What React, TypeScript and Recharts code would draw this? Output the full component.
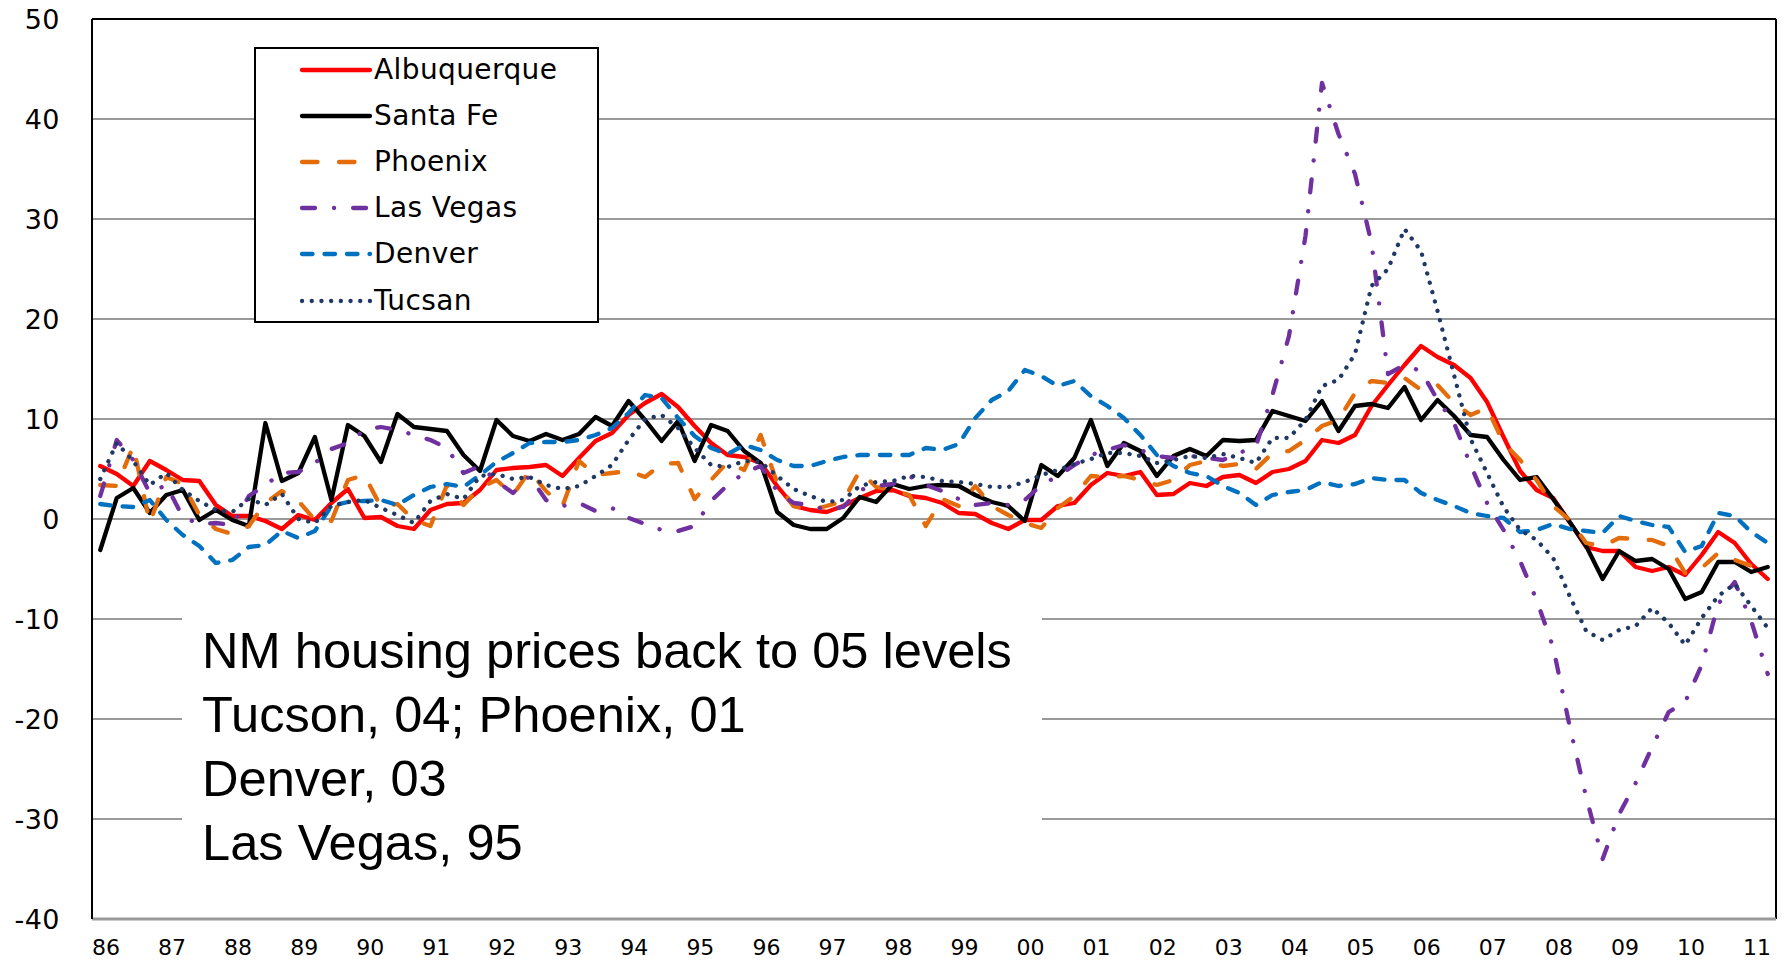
import React from "react";
import { LineChart, Line, XAxis, YAxis, CartesianGrid, ReferenceLine } from "recharts";

const yearLabels = ["86","87","88","89","90","91","92","93","94","95","96","97","98","99","00","01","02","03","04","05","06","07","08","09","10","11"];
const quarterNames = ["Q1","Q2","Q3","Q4"];
const yTicks = [-40,-30,-20,-10,0,10,20,30,40,50];

const albuquerque = [5.3,4.5,3.3,5.8,4.9,3.9,3.8,1.4,0.3,0.3,
 -0.2,-1.0,0.4,-0.1,1.6,3.0,0.1,0.2,-0.7,-1.0,
 0.9,1.5,1.6,2.9,4.9,5.1,5.2,5.4,4.3,6.1,
 7.8,8.6,10.4,11.6,12.5,11.2,9.3,7.6,6.4,6.2,
 5.6,3.3,1.3,0.9,0.7,1.3,2.1,2.8,2.9,2.3,
 2.1,1.6,0.6,0.5,-0.4,-1.0,-0.1,-0.1,1.3,1.6,
 3.4,4.6,4.3,4.7,2.4,2.5,3.6,3.3,4.2,4.4,
 3.6,4.7,5.0,5.8,7.9,7.6,8.4,11.3,13.4,15.4,
 17.3,16.2,15.4,14.1,11.7,8.2,4.8,2.9,2.1,-0.3,
 -2.8,-3.2,-3.2,-4.8,-5.2,-4.8,-5.6,-3.6,-1.3,-2.4,
 -4.5,-6.0];

const santaFe = [-3.1,2.1,3.1,0.6,2.4,2.9,-0.1,0.9,-0.1,-0.7,
 9.6,3.8,4.6,8.2,1.9,9.4,8.3,5.7,10.5,9.2,
 9.0,8.8,6.4,4.8,9.9,8.3,7.8,8.5,7.9,8.5,
 10.2,9.3,11.8,9.9,7.8,9.8,5.8,9.4,8.8,6.8,
 5.6,0.7,-0.6,-1.0,-1.0,0.1,2.2,1.7,3.5,3.0,
 3.3,3.4,3.3,2.4,1.7,1.3,-0.2,5.4,4.3,6.1,
 9.9,5.3,7.6,6.8,4.3,6.3,7.0,6.3,7.9,7.8,
 7.9,10.8,10.3,9.8,11.8,8.8,11.3,11.5,11.1,13.2,
 9.9,11.9,10.3,8.4,8.2,5.9,3.9,4.2,2.0,-0.3,
 -2.7,-6.0,-3.2,-4.2,-4.0,-5.0,-8.0,-7.3,-4.3,-4.3,
 -5.3,-4.8];

const phoenix = [3.4,3.3,7.3,-0.4,4.2,3.5,0.4,-1.0,-1.5,-0.7,
 1.6,2.8,1.8,-0.1,-0.2,3.9,4.4,1.2,1.5,-0.1,
 -0.7,3.4,1.4,3.1,3.9,2.4,4.8,2.8,1.3,5.8,
 4.4,4.6,4.8,4.2,5.5,5.6,2.0,3.9,5.7,4.9,
 8.4,3.6,1.3,0.9,1.3,1.8,4.8,3.2,2.9,2.4,
 -0.7,2.0,1.3,3.3,1.3,0.4,-0.4,-0.9,1.1,2.3,
 4.3,4.2,4.3,3.9,3.4,3.9,5.4,5.8,5.3,5.5,
 5.0,6.6,6.8,7.9,9.3,9.9,12.6,13.8,13.6,14.1,
 12.9,13.4,11.6,10.4,11.1,7.6,5.9,3.9,1.3,-0.1,
 -2.4,-2.7,-1.9,-2.0,-2.1,-2.7,-5.4,-4.9,-3.4,-4.1,
 -4.7,-4.9];

const lasVegas = [2.3,7.9,5.9,2.6,3.4,0.2,-0.5,-0.4,-0.6,2.3,
 3.4,4.6,4.7,5.6,7.0,7.6,8.9,9.2,8.9,8.4,
 7.9,7.1,4.6,5.3,3.8,2.6,4.3,1.9,1.3,1.6,
 0.8,1.1,0.1,-0.5,-1.1,-1.2,-0.7,1.8,3.4,4.6,
 5.3,2.8,1.6,1.4,0.9,1.2,2.9,3.3,3.5,4.3,
 3.4,2.8,2.0,1.4,1.6,1.4,1.9,3.4,4.3,5.4,
 6.4,6.9,7.4,6.9,6.3,6.1,6.3,6.1,5.9,6.6,
 7.3,12.4,18.3,28.3,43.6,38.5,34.5,27.6,14.5,15.4,
 14.8,11.9,9.6,5.4,1.6,-1.1,-4.2,-8.1,-12.8,-20.7,
 -27.8,-34.0,-29.5,-26.4,-22.8,-19.3,-18.3,-14.6,-8.5,-6.3,
 -10.2,-15.5];

const denver = [1.5,1.3,1.2,1.9,-0.1,-1.6,-2.7,-4.4,-4.1,-2.8,
 -2.6,-1.2,-1.9,-1.2,1.3,1.7,1.8,1.9,1.4,2.4,
 3.2,3.5,3.2,4.4,5.7,6.6,7.6,7.7,7.7,7.9,
 8.4,9.1,10.6,12.4,12.1,10.1,8.3,7.1,6.5,7.4,
 6.9,5.9,5.3,5.3,5.8,6.2,6.4,6.4,6.4,6.4,
 7.1,6.9,7.5,10.1,11.9,12.8,14.9,14.3,13.3,13.8,
 12.3,11.3,10.1,8.4,6.4,5.3,4.6,4.3,3.3,2.6,
 1.4,2.4,2.7,2.9,3.7,3.3,3.5,4.1,3.9,3.9,
 2.6,1.9,1.3,0.6,0.3,0.1,-1.3,-1.1,-0.5,-1.0,
 -1.2,-1.4,0.3,-0.2,-0.6,-0.8,-3.3,-2.7,0.6,0.3,
 -1.3,-2.4];

const tucsan = [4.0,7.6,5.8,3.4,4.6,2.9,1.8,0.9,0.7,2.0,
 1.4,2.5,0.0,-0.4,1.3,1.7,1.9,1.1,0.4,-0.4,
 1.8,2.5,2.0,4.3,4.5,4.0,4.2,3.4,3.0,3.3,
 4.3,5.4,7.9,10.0,10.4,9.1,7.1,5.4,5.2,5.8,
 5.7,4.3,3.0,2.3,1.7,1.9,3.3,3.7,3.8,4.3,
 4.2,3.8,3.7,3.5,3.2,3.2,3.7,4.4,4.9,5.5,
 6.0,6.6,6.6,6.3,5.6,5.9,6.3,6.1,6.5,6.1,
 5.6,8.1,8.1,9.9,13.3,13.9,16.5,23.3,25.0,29.0,
 26.8,20.8,14.4,8.0,4.6,1.2,-1.1,-2.1,-3.9,-7.7,
 -11.2,-12.1,-11.1,-10.7,-8.9,-10.4,-12.6,-9.9,-7.7,-6.5,
 -8.7,-10.9];

const annotationLines = ["NM housing prices back to 05 levels", "Tucson, 04; Phoenix, 01", "Denver, 03", "Las Vegas, 95"];

const series = [
  { key: "albuquerque", name: "Albuquerque", values: albuquerque, color: "#FF0000", dash: undefined as string | undefined },
  { key: "santaFe", name: "Santa Fe", values: santaFe, color: "#000000", dash: undefined as string | undefined },
  { key: "phoenix", name: "Phoenix", values: phoenix, color: "#E46C0A", dash: "15.5 21.5" },
  { key: "lasVegas", name: "Las Vegas", values: lasVegas, color: "#7030A0", dash: "13 19 0.1 19" },
  { key: "denver", name: "Denver", values: denver, color: "#0070C0", dash: "10.5 12" },
  { key: "tucsan", name: "Tucsan", values: tucsan, color: "#1F3864", dash: "0.1 9.6" },
];

const LABEL_SHIFT = 0.35;
const data = albuquerque.map((_, i) => {
  const row: Record<string, number | string> = {
    idx: i,
    period: yearLabels[Math.floor(i / 4)] + quarterNames[i % 4],
  };
  series.forEach((s) => { row[s.key] = s.values[i]; });
  return row;
});
const xTicks = yearLabels.map((_, k) => k * 4 + LABEL_SHIFT);

const W = 1789;
const H = 963;
const LINE_W = 4.3;
const tickFont = "'DejaVu Sans', Verdana, sans-serif";

export default function App() {
  return (
    <div style={{ position: "absolute", left: 0, top: 0, width: W, height: H, background: "#fff", overflow: "hidden" }}>
      <LineChart width={W} height={H} data={data} margin={{ top: 19, right: 13, left: 0, bottom: 0 }}>
        <CartesianGrid vertical={false} horizontal={true} stroke="#9a9a9a" strokeWidth={2} />
        <XAxis
          type="number"
          dataKey="idx"
          domain={[-0.5, 101.5]}
          ticks={xTicks}
          tickFormatter={(v: number) => yearLabels[Math.round((v - LABEL_SHIFT) / 4)]}
          interval={0}
          height={44}
          tickLine={false}
          tickSize={0}
          tickMargin={20}
          axisLine={{ stroke: "#9a9a9a", strokeWidth: 3 }}
          tick={{ fill: "#000", fontSize: 22, fontFamily: tickFont }}
          allowDataOverflow
        />
        <YAxis
          type="number"
          domain={[-40, 50]}
          ticks={yTicks}
          interval={0}
          width={92}
          tickLine={false}
          tickSize={0}
          tickMargin={32}
          axisLine={{ stroke: "#000", strokeWidth: 2 }}
          tick={{ fill: "#000", fontSize: 27, fontFamily: tickFont, letterSpacing: 0.5 }}
          allowDataOverflow
        />
        <ReferenceLine y={50} stroke="#000" strokeWidth={2} ifOverflow="visible" />
        <ReferenceLine x={101.5} stroke="#000" strokeWidth={2} ifOverflow="visible" />
        {series.map((s) => (
          <Line
            key={s.key}
            type="linear"
            dataKey={s.key}
            name={s.name}
            stroke={s.color}
            strokeWidth={LINE_W}
            strokeDasharray={s.dash}
            strokeLinecap="round"
            strokeLinejoin="round"
            dot={false}
            activeDot={false}
            isAnimationActive={false}
          />
        ))}
      </LineChart>

      <div style={{ position: "absolute", left: 254, top: 47, width: 345, height: 276, boxSizing: "border-box", border: "2px solid #000", background: "#fff" }}>
        {series.map((s, k) => (
          <div key={s.key} style={{ position: "absolute", left: 0, top: 20.5 + k * 46.2 - 18, height: 36, display: "flex", alignItems: "center" }}>
            <svg width={118} height={36} style={{ display: "block" }}>
              <line x1={46} y1={18} x2={114} y2={18} stroke={s.color} strokeWidth={LINE_W} strokeDasharray={s.dash} strokeLinecap="round" />
            </svg>
            <span style={{ fontFamily: tickFont, fontSize: 28, letterSpacing: 0.4, color: "#000", whiteSpace: "nowrap", lineHeight: "36px" }}>{s.name}</span>
          </div>
        ))}
      </div>

      <div style={{ position: "absolute", left: 182, top: 608, width: 860, height: 270, background: "#fff" }}>
        {annotationLines.map((t, k) => (
          <div key={k} style={{ position: "absolute", left: 20, top: 11 + k * 64, height: 64, lineHeight: "64px", fontFamily: "'Liberation Sans', Arial, sans-serif", fontSize: 50.6, color: "#000", whiteSpace: "nowrap" }}>{t}</div>
        ))}
      </div>
    </div>
  );
}
